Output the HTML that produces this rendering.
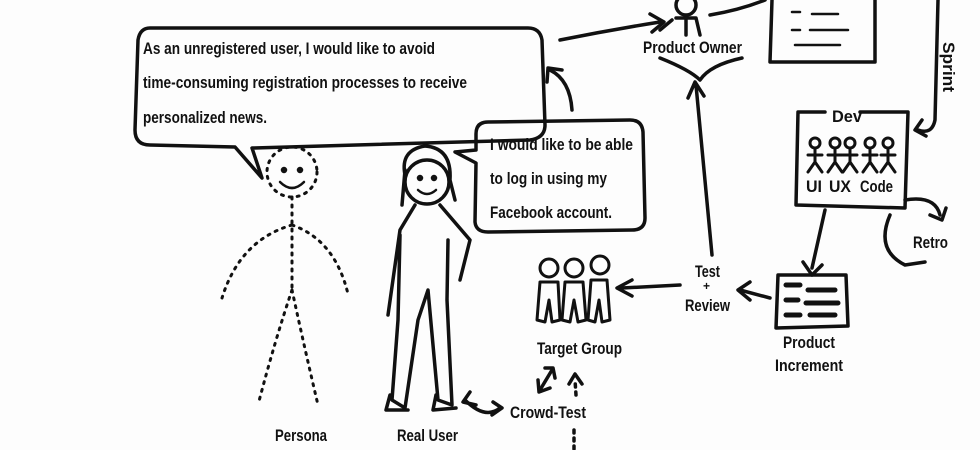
<!DOCTYPE html>
<html><head><style>
html,body{margin:0;padding:0;background:#fff;}
svg{display:block}
text{font-family:"Liberation Sans Narrow","Liberation Sans",sans-serif;font-weight:bold;fill:#111;}
</style></head><body>
<svg width="980" height="450" viewBox="0 0 980 450" xmlns="http://www.w3.org/2000/svg">
<rect width="980" height="450" fill="#fdfdfd"/>
<g fill="none" stroke="#111" stroke-width="3.5" stroke-linecap="round" stroke-linejoin="round">
<path d="M150,28 Q140,28 138,40 L135,130 Q135,145 150,145 L235,147 L262,178 L252,148 L530,140 Q545,138 545,125 L542,40 Q540,28 528,28 Z"/>
<path d="M488,122 Q476,122 476,134 L476,150 L455,152 L476,163 L475,222 Q476,232 488,232 L632,230 Q645,230 645,218 L643,132 Q642,120 630,120 Z"/>
<path d="M572,110 Q570,80 550,70"/>
<path d="M547,82 L548,68 L562,70"/>
<path d="M560,40 Q610,30 660,22"/>
<path d="M650,14 L664,22 L652,32"/>
<circle cx="427" cy="182" r="22"/>
<path d="M405,175 Q400,150 425,146 Q452,148 450,180 L455,200"/>
<path d="M405,170 L402,205"/>
<path d="M418,190 Q427,198 436,190" stroke-width="2.5"/>
<path d="M415,205 L400,230 L388,315 M440,205 L470,240 L460,280 M400,235 L398,320 L392,400 L405,408 L418,320 L428,290 L438,400 L452,405 L447,300 L448,240"/>
<path d="M390,395 L386,410 L408,410 M436,395 L433,410 L456,408"/>
<g stroke-dasharray="2 6" stroke-width="3">
<circle cx="292" cy="172" r="25"/>
<path d="M292,197 L292,290 M292,225 Q240,240 222,298 M292,225 Q335,240 348,294 M292,290 Q275,340 258,405 M292,290 Q305,350 318,405"/>
</g>
<path d="M280,182 Q292,194 304,182" stroke-width="2.5"/>
<circle cx="284" cy="170" r="1.5" fill="#111"/><circle cx="300" cy="170" r="1.5" fill="#111"/>
<circle cx="420" cy="178" r="1.5" fill="#111"/><circle cx="434" cy="178" r="1.5" fill="#111"/>
<circle cx="686" cy="5" r="10"/>
<path d="M676,18 L696,18 L700,35 M672,20 L660,30 M686,20 L686,35"/>
<path d="M710,15 Q740,10 765,0"/>
<path d="M660,58 Q690,70 700,80 Q710,65 742,58"/>
<path d="M772,0 L770,62 L875,62 L875,0"/>
<path d="M792,12 L800,12 M812,14 L838,14 M792,30 L800,30 M810,30 L848,30 M795,45 L840,45" stroke-width="2.5"/>
<path d="M938,0 L935,120 Q932,135 918,130"/>
<path d="M922,120 L915,130 L926,136"/>
<path d="M798,112 L796,205 L905,208 L908,112 L860,112 M825,112 L798,112"/>
<g stroke-width="3">
<circle cx="815" cy="143" r="5"/><path d="M815,148 L815,162 M808,155 L822,155 M815,162 L808,172 M815,162 L822,172"/>
<circle cx="835" cy="143" r="5"/><path d="M835,148 L835,162 M828,155 L842,155 M835,162 L828,172 M835,162 L842,172"/>
<circle cx="850" cy="143" r="5"/><path d="M850,148 L850,162 M843,155 L857,155 M850,162 L843,172 M850,162 L857,172"/>
<circle cx="870" cy="143" r="5"/><path d="M870,148 L870,162 M863,155 L877,155 M870,162 L863,172 M870,162 L877,172"/>
<circle cx="888" cy="143" r="5"/><path d="M888,148 L888,162 M881,155 L895,155 M888,162 L881,172 M888,162 L895,172"/>
</g>
<path d="M905,200 Q935,195 940,215"/>
<path d="M930,215 L942,220 L946,208"/>
<path d="M890,215 Q875,250 905,265 L925,262"/>
<path d="M825,210 L812,268"/>
<path d="M803,262 L812,275 L822,265"/>
<path d="M778,275 L776,328 L848,326 L846,275 Z"/>
<g stroke-width="5"><path d="M786,285 L800,285 M808,290 L835,290 M786,300 L798,300 M806,303 L838,303 M786,315 L800,315 M810,315 L835,315"/></g>
<path d="M770,298 L740,290"/>
<path d="M750,282 L738,290 L750,300"/>
<path d="M712,255 L696,85"/>
<path d="M688,98 L695,82 L704,96"/>
<path d="M680,285 L622,288"/>
<path d="M632,280 L617,288 L632,296"/>
<g stroke-width="3">
<circle cx="549" cy="268" r="9"/><path d="M540,282 L558,282 L560,320 L552,322 L549,300 L545,322 L537,320 Z"/>
<circle cx="574" cy="268" r="9"/><path d="M565,282 L583,282 L586,320 L578,322 L574,300 L570,322 L562,320 Z"/>
<circle cx="600" cy="265" r="9"/><path d="M591,280 L607,280 L610,320 L602,322 L599,300 L595,322 L588,320 Z"/>
</g>
<path d="M465,400 Q485,420 500,408"/>
<path d="M470,392 L463,402 L476,405 M493,402 L502,408 L492,415"/>
<path d="M540,390 L552,370"/>
<path d="M538,380 L539,392 L550,388 M545,368 L553,368 L555,378"/>
<path d="M576,395 L575,380" stroke-dasharray="3 5"/>
<path d="M569,384 L575,374 L582,384"/>
<path d="M574,430 L574,450" stroke-dasharray="3 5"/>
</g>
<g font-size="17">
<text x="143" y="54" textLength="292" lengthAdjust="spacingAndGlyphs">As an unregistered user, I would like to avoid</text>
<text x="143" y="88" textLength="324" lengthAdjust="spacingAndGlyphs">time-consuming registration processes to receive</text>
<text x="143" y="123" textLength="124" lengthAdjust="spacingAndGlyphs">personalized news.</text>
<text x="490" y="150" textLength="143" lengthAdjust="spacingAndGlyphs">I would like to be able</text>
<text x="490" y="184" textLength="117" lengthAdjust="spacingAndGlyphs">to log in using my</text>
<text x="490" y="218" textLength="122" lengthAdjust="spacingAndGlyphs">Facebook account.</text>
<text x="643" y="53" textLength="99" lengthAdjust="spacingAndGlyphs">Product Owner</text>
<text x="832" y="122" textLength="30" lengthAdjust="spacingAndGlyphs">Dev</text>
<text x="806" y="192" textLength="16" lengthAdjust="spacingAndGlyphs">UI</text><text x="829" y="192" textLength="22" lengthAdjust="spacingAndGlyphs">UX</text><text x="860" y="192" textLength="33" lengthAdjust="spacingAndGlyphs">Code</text>
<text x="913" y="248" textLength="35" lengthAdjust="spacingAndGlyphs">Retro</text>
<text x="783" y="348" textLength="52" lengthAdjust="spacingAndGlyphs">Product</text>
<text x="775" y="371" textLength="68" lengthAdjust="spacingAndGlyphs">Increment</text>
<text x="695" y="277" textLength="25" lengthAdjust="spacingAndGlyphs">Test</text>
<text x="703" y="290" font-size="12">+</text>
<text x="685" y="311" textLength="45" lengthAdjust="spacingAndGlyphs">Review</text>
<text x="537" y="354" textLength="85" lengthAdjust="spacingAndGlyphs">Target Group</text>
<text x="510" y="418" textLength="76" lengthAdjust="spacingAndGlyphs">Crowd-Test</text>
<text x="275" y="441" textLength="52" lengthAdjust="spacingAndGlyphs">Persona</text>
<text x="397" y="441" textLength="61" lengthAdjust="spacingAndGlyphs">Real User</text>
<text transform="translate(943,42) rotate(90)" textLength="50" lengthAdjust="spacingAndGlyphs">Sprint</text>
</g>
</svg>
</body></html>
